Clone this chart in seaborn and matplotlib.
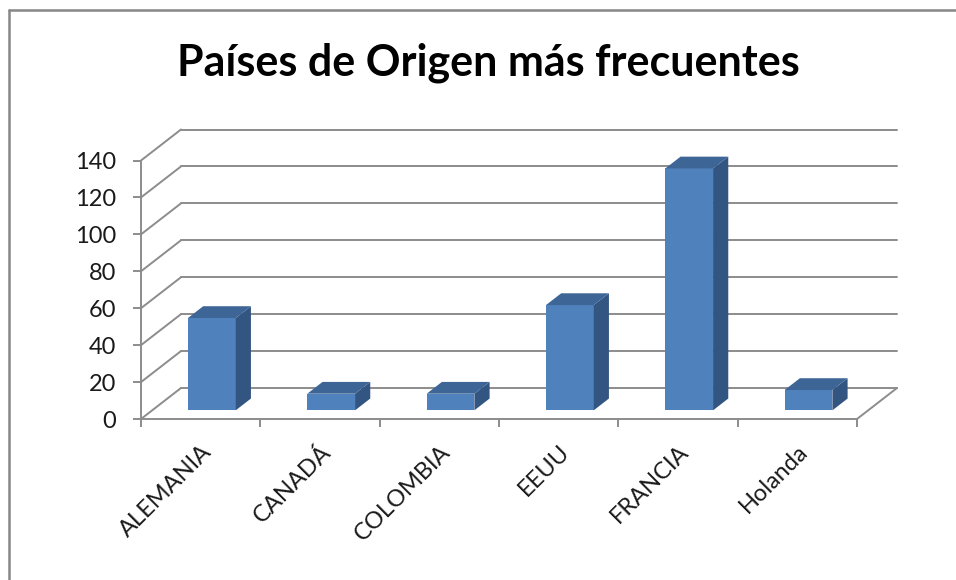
import numpy as np
import pandas as pd
import matplotlib
matplotlib.use("Agg")
import matplotlib.pyplot as plt
from matplotlib.patches import Polygon
from matplotlib.lines import Line2D
import seaborn as sns

# data
paises = ["ALEMANIA", "CANADÁ", "COLOMBIA", "EEUU", "FRANCIA", "Holanda"]
cantidad = [50, 9, 9, 57, 131, 11]
y_ticks = [0, 20, 40, 60, 80, 100, 120, 140]

df = pd.DataFrame({"pais": paises, "cantidad": cantidad})

sns.set_theme(style="white")
plt.rcParams["font.family"] = ["Lato", "DejaVu Sans"]

front = "#4F81BD"
side = "#335581"
top = "#3D6596"
grid_col = "#8C8C8C"

fig = plt.figure(figsize=(9.56, 5.80), dpi=100)
ax = fig.add_axes([141 / 956, 161 / 580, 716 / 956, 258.5 / 580])
ax.set_xlim(-0.5, 5.5)
ax.set_ylim(0, 140)

# depth of the fake 3D box (in data units) and bar placement inside it
DX, DY = 40 / 119.33, 31 * 140 / 258.5
f0, f1 = 0.28, 0.66

# back wall, left wall and floor
for v in y_ticks:
    ax.plot([-0.5 + DX, 5.5 + DX], [v + DY, v + DY], color=grid_col, lw=1.4, clip_on=False, zorder=1)
    ax.plot([-0.5, -0.5 + DX], [v, v + DY], color=grid_col, lw=1.4, clip_on=False, zorder=1)
ax.plot([5.5, 5.5 + DX], [0, DY], color=grid_col, lw=1.4, clip_on=False, zorder=1)

sns.barplot(data=df, x="pais", y="cantidad", color=front, width=0.4,
            saturation=1, ax=ax, zorder=3)

for p in ax.patches:
    x0, w, h = p.get_x(), p.get_width(), p.get_height()
    ox, oy = f0 * DX, f0 * DY
    p.set_x(x0 + ox)
    p.set_y(oy)
    p.set_edgecolor("none")
    x0 += ox
    ex, ey = (f1 - f0) * DX, (f1 - f0) * DY
    sidep = Polygon([(x0 + w, oy), (x0 + w + ex, oy + ey), (x0 + w + ex, oy + h + ey), (x0 + w, oy + h)],
                    closed=True, fc=side, ec="none", clip_on=False, zorder=3)
    topp = Polygon([(x0, oy + h), (x0 + ex, oy + h + ey), (x0 + w + ex, oy + h + ey), (x0 + w, oy + h)],
                   closed=True, fc=top, ec="none", clip_on=False, zorder=3)
    ax.add_patch(sidep)
    ax.add_patch(topp)

for s in ["top", "right"]:
    ax.spines[s].set_visible(False)
for s in ["left", "bottom"]:
    ax.spines[s].set_color(grid_col)
    ax.spines[s].set_linewidth(1.4)

ax.set_yticks(y_ticks)
ax.set_xticks(np.arange(-0.5, 6.0, 1.0), minor=True)
ax.tick_params(axis="x", which="major", length=0, pad=16)
ax.tick_params(axis="x", which="minor", length=6, width=1.4, color=grid_col, bottom=True)
ax.tick_params(axis="y", length=6, width=1.4, color=grid_col, left=True, labelsize=17, pad=12)
ax.set_xticks(range(len(paises)))
ax.set_xticklabels(paises, rotation=45, ha="right", rotation_mode="anchor", fontsize=17)
for lab in ax.get_yticklabels() + ax.get_xticklabels():
    lab.set_color("#1a1a1a")
ax.set_xlabel("")
ax.set_ylabel("")

fig.text(488 / 956, 1 - 63 / 580, "Países de Origen más frecuentes", ha="center", va="center",
         fontsize=31, fontweight="bold", color="black")

# chart border (left and top visible in the crop)
fig.add_artist(Line2D([9 / 956, 9 / 956], [0, 1 - 10 / 580], color="#878787", lw=1.8, transform=fig.transFigure))
fig.add_artist(Line2D([9 / 956, 1], [1 - 10 / 580, 1 - 10 / 580], color="#878787", lw=1.8, transform=fig.transFigure))

fig.savefig("out.png", dpi=100)
